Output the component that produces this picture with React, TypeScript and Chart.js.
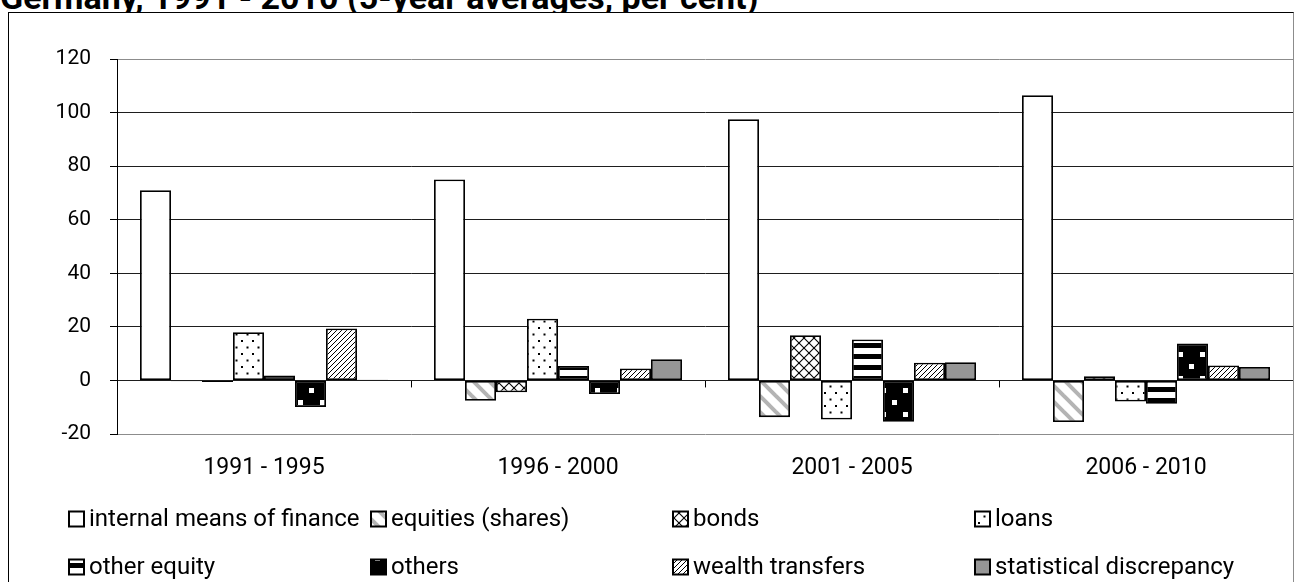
import React, { useEffect, useRef } from "react";
import { Chart, registerables } from "chart.js";

Chart.register(...registerables);

const categories = ["1991 - 1995", "1996 - 2000", "2001 - 2005", "2006 - 2010"];
const seriesNames = [
  "internal means of finance",
  "equities (shares)",
  "bonds",
  "loans",
  "other equity",
  "others",
  "wealth transfers",
  "statistical discrepancy",
];
const internalMeans = [71, 75, 97.5, 106.5];
const equities = [-0.3, -7.6, -13.7, -15.5];
const bonds = [-0.6, -4.4, 16.9, 1.6];
const loans = [18, 23, -14.6, -7.9];
const otherEquity = [1.8, 5.4, 15.3, -8.7];
const others = [-9.9, -5.1, -15.4, 13.8];
const wealthTransfers = [19.4, 4.5, 6.6, 5.6];
const statDiscrepancy = [0.3, 7.9, 6.8, 5.0];
const yMin = -20;
const yMax = 120;
const yStep = 20;

const FONT = "Roboto, 'DejaVu Sans', sans-serif";

function makeTile(w: number, h: number, draw: (c: CanvasRenderingContext2D) => void) {
  const cv = document.createElement("canvas");
  cv.width = w;
  cv.height = h;
  const c = cv.getContext("2d")!;
  draw(c);
  return cv;
}

function buildFills(ctx: CanvasRenderingContext2D): (string | CanvasPattern)[] {
  const equitiesTile = makeTile(16, 16, (c) => {
    c.fillStyle = "#fff";
    c.fillRect(0, 0, 16, 16);
    c.strokeStyle = "#b4b4b4";
    c.lineWidth = 4;
    for (let k = -1; k <= 1; k++) {
      c.beginPath();
      c.moveTo(k * 16 - 2, -2);
      c.lineTo(k * 16 + 18, 18);
      c.stroke();
    }
  });
  const bondsTile = makeTile(10, 10, (c) => {
    c.fillStyle = "#fff";
    c.fillRect(0, 0, 10, 10);
    c.strokeStyle = "#000";
    c.lineWidth = 1.1;
    for (let k = -1; k <= 1; k++) {
      c.beginPath();
      c.moveTo(k * 10 - 1, -1);
      c.lineTo(k * 10 + 11, 11);
      c.stroke();
      c.beginPath();
      c.moveTo(k * 10 - 1, 11);
      c.lineTo(k * 10 + 11, -1);
      c.stroke();
    }
  });
  const loansTile = makeTile(11, 13, (c) => {
    c.fillStyle = "#fff";
    c.fillRect(0, 0, 11, 13);
    c.fillStyle = "#000";
    c.fillRect(1, 2, 2, 2);
    c.fillRect(6.5, 8.5, 2, 2);
  });
  const otherEquityTile = makeTile(4, 11, (c) => {
    c.fillStyle = "#fff";
    c.fillRect(0, 0, 4, 11);
    c.fillStyle = "#000";
    c.fillRect(0, 0, 4, 5);
  });
  const othersTile = makeTile(22, 24, (c) => {
    c.fillStyle = "#000";
    c.fillRect(0, 0, 22, 24);
    c.fillStyle = "#fff";
    c.fillRect(3, 3, 5, 5);
    c.fillRect(14, 15, 5, 5);
  });
  const wealthTile = makeTile(5, 5, (c) => {
    c.fillStyle = "#fff";
    c.fillRect(0, 0, 5, 5);
    c.strokeStyle = "#000";
    c.lineWidth = 1;
    for (let k = -1; k <= 1; k++) {
      c.beginPath();
      c.moveTo(k * 5 - 1, 6);
      c.lineTo(k * 5 + 6, -1);
      c.stroke();
    }
  });
  return [
    "#ffffff",
    ctx.createPattern(equitiesTile, "repeat")!,
    ctx.createPattern(bondsTile, "repeat")!,
    ctx.createPattern(loansTile, "repeat")!,
    ctx.createPattern(otherEquityTile, "repeat")!,
    ctx.createPattern(othersTile, "repeat")!,
    ctx.createPattern(wealthTile, "repeat")!,
    "#969696",
  ];
}

const zeroTicksPlugin = {
  id: "zeroTicks",
  afterDatasetsDraw(chart: any) {
    const { ctx, scales } = chart;
    const x = scales.x;
    const y = scales.y;
    const y0 = y.getPixelForValue(0);
    const half = (x.getPixelForValue(1) - x.getPixelForValue(0)) / 2;
    ctx.save();
    ctx.strokeStyle = "#000";
    ctx.lineWidth = 1;
    for (let i = 0; i <= categories.length; i++) {
      const px = Math.round(x.getPixelForValue(i) - half) + 0.5;
      ctx.beginPath();
      ctx.moveTo(px, y0);
      ctx.lineTo(px, y0 + 7);
      ctx.stroke();
    }
    ctx.restore();
  },
};

const LEGEND_FIRST = 60;
const LEGEND_COL = 302;
const LEGEND_ROWS = [506, 554];
const LEGEND_BOX = 15;

const gridLegendPlugin = {
  id: "gridLegend",
  afterDraw(chart: any) {
    const { ctx } = chart;
    ctx.save();
    ctx.font = `24px ${FONT}`;
    ctx.textBaseline = "middle";
    ctx.textAlign = "left";
    chart.data.datasets.forEach((ds: any, i: number) => {
      const col = i % 4;
      const row = Math.floor(i / 4);
      const x = LEGEND_FIRST + col * LEGEND_COL;
      const y = LEGEND_ROWS[row];
      ctx.fillStyle = ds.backgroundColor;
      ctx.fillRect(x, y - LEGEND_BOX / 2, LEGEND_BOX, LEGEND_BOX);
      ctx.strokeStyle = "#000";
      ctx.lineWidth = 2;
      ctx.strokeRect(x, y - LEGEND_BOX / 2, LEGEND_BOX, LEGEND_BOX);
      ctx.fillStyle = "#000";
      ctx.fillText(ds.label, x + LEGEND_BOX + 5, y + 1);
    });
    ctx.restore();
  },
};

export default function App() {
  const ref = useRef<HTMLCanvasElement | null>(null);
  useEffect(() => {
    const canvas = ref.current!;
    const ctx = canvas.getContext("2d")!;
    const fills = buildFills(ctx);
    const values = [
      internalMeans,
      equities,
      bonds,
      loans,
      otherEquity,
      others,
      wealthTransfers,
      statDiscrepancy,
    ];
    const chart = new Chart(canvas, {
      type: "bar",
      data: {
        labels: categories,
        datasets: values.map((v, i) => ({
          label: seriesNames[i],
          data: v,
          backgroundColor: fills[i] as any,
          borderColor: "#000",
          borderWidth: 1.8,
          borderSkipped: false,
          categoryPercentage: 0.8435,
          barPercentage: 1,
        })),
      },
      plugins: [zeroTicksPlugin, gridLegendPlugin],
      options: {
        animation: false,
        responsive: false,
        devicePixelRatio: 1,
        layout: { padding: { top: 46, left: 0, right: 0, bottom: 0 } },
        plugins: {
          legend: { display: false },
          tooltip: { enabled: false },
          title: { display: false },
        },
        scales: {
          x: {
            position: "bottom",
            grid: { display: false, drawTicks: false },
            border: { display: false },
            ticks: {
              color: "#000",
              font: { family: FONT, size: 23 },
              padding: 20,
              maxRotation: 0,
            },
            afterFit: (s: any) => {
              s.height = 148;
            },
          },
          y: {
            min: yMin,
            max: yMax,
            ticks: {
              stepSize: yStep,
              color: "#000",
              font: { family: FONT, size: 21 },
              padding: 19,
            },
            grid: {
              color: (c: any) =>
                c.tick && (c.tick.value === yMin || c.tick.value === yMax) ? "#8c8c8c" : "#1e1e1e",
              lineWidth: 1,
              tickLength: 7,
              tickColor: "#000",
            },
            border: { display: true, color: "#000", width: 1 },
            afterFit: (s: any) => {
              s.width = 108;
            },
          },
        },
      } as any,
    });
    return () => chart.destroy();
  }, []);

  return (
    <div
      style={{
        position: "absolute",
        left: 0,
        top: 0,
        width: 1303,
        height: 582,
        overflow: "hidden",
        background: "#fff",
      }}
    >
      <div
        style={{
          position: "absolute",
          left: 0,
          top: -20,
          fontFamily: FONT,
          fontWeight: 700,
          fontSize: 34,
          lineHeight: "34px",
          color: "#000",
          whiteSpace: "nowrap",
        }}
      >
        Germany, 1991 - 2010 (5-year averages, per cent)
      </div>
      <div
        style={{
          position: "absolute",
          left: 8,
          top: 12,
          width: 1284,
          height: 600,
          borderLeft: "1px solid #000",
          borderTop: "1px solid #000",
          borderRight: "1px solid #8c8c8c",
          borderBottom: "1px solid #000",
          background: "#fff",
        }}
      >
        <canvas ref={ref} width={1284} height={569} style={{ display: "block" }} />
      </div>
    </div>
  );
}
